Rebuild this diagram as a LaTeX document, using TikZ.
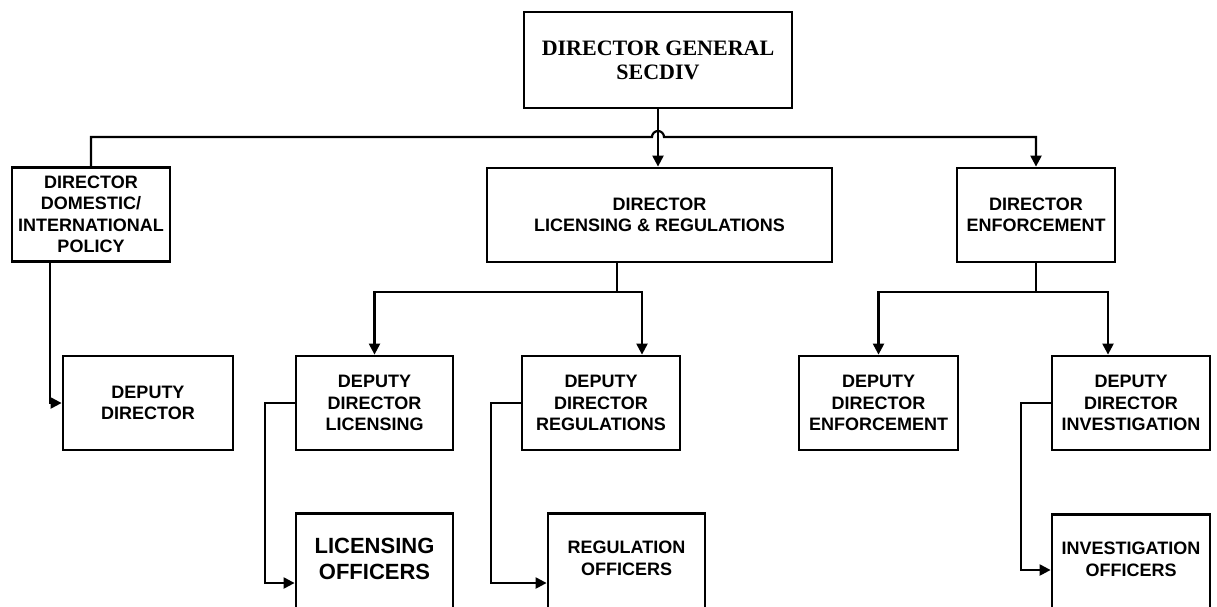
\documentclass[tikz,border=0pt]{standalone}
\usepackage{fontspec}
\setmainfont{Liberation Sans}
\newfontfamily\dgfont{Liberation Serif}
\usetikzlibrary{arrows.meta}

\begin{document}
\begin{tikzpicture}
  [x=1pt, y=-1pt, line width=2.2pt]
  \tikzstyle{box} = [draw=black, line width=2.8pt, align=center, inner sep=0pt, font=\bfseries\fontsize{18}{21.5}\selectfont];
  \tikzstyle{top_box} = [box, minimum width=268pt, minimum height=96pt, font=\dgfont\bfseries\fontsize{22}{24}\selectfont];
  \tikzstyle{dir_box} = [box, minimum height=94pt];
  \tikzstyle{officer_box} = [box, anchor=north, minimum width=157pt, minimum height=100pt, text depth=10pt];
  \tikzstyle{arr} = [-{Triangle[length=11pt,width=11pt]}];

  \useasboundingbox (0,0) rectangle (1217,606);
  \clip (0,0) rectangle (1217,606);

  \node[top_box] (dg) at (658,60) {DIRECTOR GENERAL\\SECDIV};

  \node[dir_box, minimum width=158pt] (pol) at (91,214.5) {DIRECTOR\\DOMESTIC/\\INTERNATIONAL\\POLICY};
  \node[dir_box, minimum width=345pt] (lr)  at (659.5,215) {DIRECTOR\\LICENSING \& REGULATIONS};
  \node[dir_box, minimum width=158pt] (enf) at (1036,215) {DIRECTOR\\ENFORCEMENT};

  \node[dir_box, minimum width=170pt] (dep) at (148,403) {DEPUTY\\DIRECTOR};
  \node[dir_box, minimum width=157pt] (ddl) at (374.5,403) {DEPUTY\\DIRECTOR\\LICENSING};
  \node[dir_box, minimum width=158pt] (ddr) at (601,403) {DEPUTY\\DIRECTOR\\REGULATIONS};
  \node[dir_box, minimum width=159pt] (dde) at (878.5,403) {DEPUTY\\DIRECTOR\\ENFORCEMENT};
  \node[dir_box, minimum width=158pt] (ddi) at (1131,403) {DEPUTY\\DIRECTOR\\INVESTIGATION};

  \node[officer_box, font=\bfseries\fontsize{22}{26}\selectfont] (lo) at (374.5,512) {LICENSING\\OFFICERS};
  \node[officer_box] (ro) at (626.5,512) {REGULATION\\OFFICERS};
  \node[officer_box, minimum width=158pt] (io) at (1131,513) {INVESTIGATION\\OFFICERS};

  % top bus with the hop over the centre line
  \coordinate (hop) at (652,137);
  \draw[arr] (pol.north) |- (hop) arc[start angle=180, end angle=0, radius=6pt] -| (enf.north);
  \draw[arr] (dg.south) -- (dg.south |- lr.north);
  \draw[arr] ([xshift=-41pt]pol.south) |- (dep.west);

  % licensing & regulations
  \coordinate (lrj) at (617,292);
  \draw (lr.south -| lrj) -- (lrj);
  \draw[arr] (lrj) -| (ddl.north);
  \draw[arr] (lrj) -| ([xshift=41pt]ddr.north);

  % enforcement
  \coordinate (enfj) at (1036,292);
  \draw (enf.south) -- (enfj);
  \draw[arr] (enfj) -| (dde.north);
  \draw[arr] (enfj) -| ([xshift=-23pt]ddi.north);

  % officers
  \draw[arr] (ddl.west) -- ++(-30,0) |- ([yshift=-71pt]lo.north west);
  \draw[arr] (ddr.west) -- ++(-30,0) |- ([yshift=-71pt]ro.north west);
  \draw[arr] (ddi.west) -- ++(-30,0) |- ([yshift=-57pt]io.north west);
\end{tikzpicture}
\end{document}
